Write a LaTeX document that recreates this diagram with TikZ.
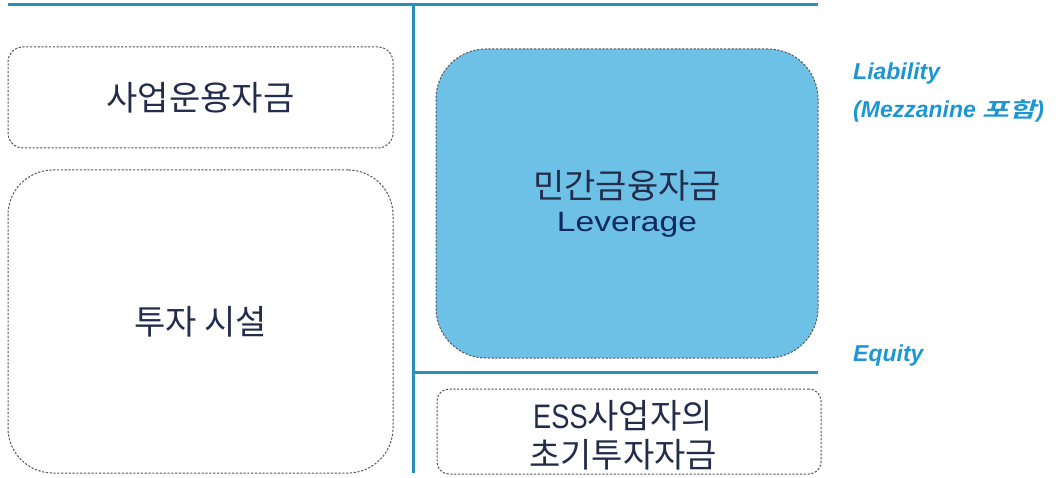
\documentclass[tikz,border=0pt]{standalone}
\usepackage{fontspec}
\setmainfont{Liberation Sans}
\newfontfamily\kr{Noto Sans CJK KR}
\newfontfamily\krbi{Noto Sans CJK KR Bold}[FakeSlant=0.2]
\newfontfamily\lbi{Liberation Sans}[UprightFont=* Bold Italic]
\definecolor{lineblue}{RGB}{40,145,185}
\definecolor{fillblue}{RGB}{110,193,230}
\definecolor{labblue}{RGB}{30,150,212}
\definecolor{navy}{RGB}{35,45,75}
\definecolor{levnavy}{RGB}{15,40,100}
\definecolor{dashgray}{RGB}{85,85,90}
\tikzset{
  rule/.style={draw=lineblue, line width=3pt},
  dbox/.style={draw=dashgray, line width=1pt, dash pattern=on 2.2pt off 1.6pt,
    rectangle, align=center, text=navy, inner sep=0pt,
    font=\kr\fontsize{34}{39}\selectfont},
  side/.style={anchor=base west, text=labblue, inner sep=0pt, font=\lbi\fontsize{23}{26}\selectfont}
}
\begin{document}
\begin{tikzpicture}[x=1pt, y=-1pt]
\useasboundingbox (0,0) rectangle (1063,478);
% rules
\coordinate (tl) at (8,4.5);
\coordinate (tr) at (818,4.5);
\coordinate (vt) at (413.5,4.5);
\coordinate (vb) at (413.5,473);
\coordinate (hl) at (413.5,372);
\coordinate (hr) at (818,372);
\draw[rule] (tl) -- (tr);
\draw[rule] (vt) -- (vb);
\draw[rule] (hl) -- (hr);
% boxes
\node[dbox, minimum width=385pt, minimum height=101pt, rounded corners=15pt] (b1) at (200.5,97.5) {사업운용자금};
\node[dbox, minimum width=385pt, minimum height=303pt, rounded corners=45pt] (b2) at (200.5,321.5) {투자 시설};
\node[dbox, fill=fillblue, minimum width=382pt, minimum height=309pt, rounded corners=50pt] (b3) at (627,203.5)
  {민간금융자금\\[-6pt]{\color{levnavy}\fontspec{Liberation Sans}\fontsize{28}{32}\selectfont\scalebox{1.2}[1]{Leverage}}};
\node[dbox, minimum width=384pt, minimum height=85pt, rounded corners=12pt] (b4) at (629,431.5) {};
\node[align=center, text=navy, inner sep=0pt, font=\kr\fontsize{34}{39}\selectfont] (b4t) at (623,435)
  {{\fontspec{Liberation Sans}\fontsize{34}{39}\selectfont\scalebox{0.8}[1]{ESS}}사업자의\\초기투자자금};
% side labels
\node[side] (liab) at (853,80) {Liability};
\node[side] (mezz) at (853,118) {(Mezzanine \scalebox{1.4}[1]{\krbi\fontsize{21}{24}\selectfont 포함})};
\node[side] (eq) at (853,362) {Equity};
\end{tikzpicture}
\end{document}
